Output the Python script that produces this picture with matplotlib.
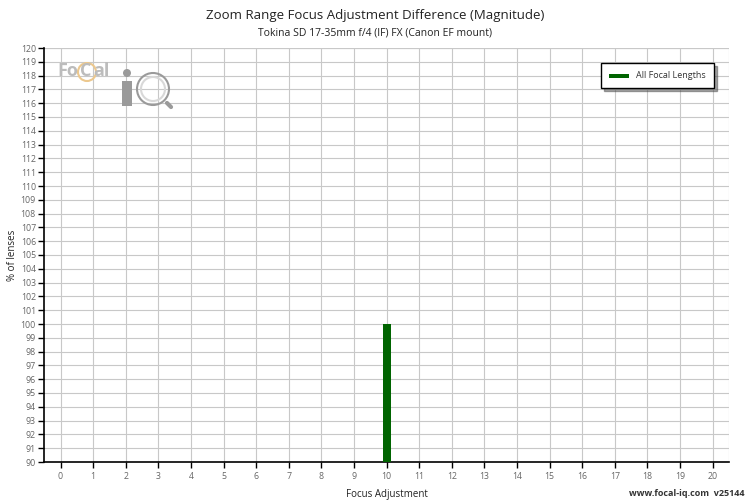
import matplotlib
matplotlib.use("Agg")
import matplotlib.pyplot as plt
from matplotlib.patches import Ellipse, Rectangle

plt.rcParams["font.family"] = ["Open Sans", "DejaVu Sans"]

# ── Data ─────────────────────────────────────────────────────────────────────
focus_values = [10]
pct_lenses = [100]
x_ticks = list(range(0, 21))
y_ticks = list(range(90, 121))
series_name = "All Focal Lengths"
bar_color = "#006400"

# ── Figure ───────────────────────────────────────────────────────────────────
fig = plt.figure(figsize=(7.5, 5), dpi=100)
ax = fig.add_axes([0.059, 0.076, 0.913, 0.828])

ax.bar(focus_values, [p - 90 for p in pct_lenses], bottom=90, width=0.25,
       color=bar_color, label=series_name, zorder=3)

ax.set_xlim(-0.5, 20.5)
ax.set_ylim(90, 120)
ax.set_xticks(x_ticks)
ax.set_yticks(y_ticks)
ax.tick_params(axis="both", labelsize=6.3, labelcolor="#666666", color="black",
               length=4, width=1)
ax.tick_params(axis="y", pad=2)
ax.grid(True, color="#c8c8c8", linewidth=0.8, zorder=0)

for side in ["top", "right"]:
    ax.spines[side].set_visible(False)
ax.spines["left"].set_linewidth(1.2)
ax.spines["bottom"].set_linewidth(1.2)
ax.axvline(20.5, color="#c8c8c8", linewidth=0.8, zorder=0)
ax.axhline(120, color="#c8c8c8", linewidth=0.8, zorder=0)

ax.set_xlabel("Focus Adjustment", fontsize=7, color="#222222")
ax.set_ylabel("% of lenses", fontsize=7, color="#222222")
ax.xaxis.set_label_coords(0.5, -0.065)
ax.yaxis.set_label_coords(-0.039, 0.5)

fig.text(0.5, 0.968, "Zoom Range Focus Adjustment Difference (Magnitude)",
         ha="center", va="center", fontsize=9.5, color="#222222")
fig.text(0.5, 0.934, "Tokina SD 17-35mm f/4 (IF) FX (Canon EF mount)",
         ha="center", va="center", fontsize=7.5, color="#222222")
fig.text(0.993, 0.014, "www.focal-iq.com  v25144", ha="right", va="center",
         fontsize=6.5, fontweight="bold", color="#333333")

leg = ax.legend(loc="upper right", bbox_to_anchor=(0.985, 0.975), fontsize=6.5,
                frameon=True, fancybox=False, shadow=True, handlelength=2.2,
                borderpad=0.9, labelcolor="#333333")
leg.get_frame().set_edgecolor("black")
leg.get_frame().set_linewidth(1)
for h in leg.legend_handles:
    h.set_height(3)

# ── Logo watermark (approximate, pixel positions) ────────────────────────────
px = lambda x, y: (x / 750, 1 - y / 500)


def ring(x, y, r, color, lw=1.5, fill=False):
    fig.patches.append(Ellipse(px(x, y), 2 * r / 750, 2 * r / 500,
                               transform=fig.transFigure, fill=fill,
                               facecolor=color if fill else "none",
                               edgecolor=color if not fill else "none",
                               linewidth=lw))


fig.text(*px(57, 71), "Fo", fontsize=13, fontweight="bold", color="#bcbcbc",
         va="center")
fig.text(*px(80, 71), "C", fontsize=13, fontweight="bold", color="#bcbcbc",
         va="center")
fig.text(*px(93, 71), "al", fontsize=13, fontweight="bold", color="#bcbcbc",
         va="center")
ring(87, 72, 9, "#ecc88e")
# "i"
ring(127, 73, 4, "#9a9a9a", fill=True)
fig.patches.append(Rectangle(px(122, 106), 10 / 750, 25 / 500,
                             transform=fig.transFigure, facecolor="#9a9a9a",
                             edgecolor="none"))
# magnifier
ring(153, 89, 16, "#9a9a9a")
ring(153, 89, 12, "#d8d8d8")
ax.annotate("", xy=px(173, 109), xytext=px(165, 101), xycoords="figure fraction",
            arrowprops=dict(arrowstyle="-", color="#9a9a9a", lw=3))

fig.savefig("out.png", dpi=100)
